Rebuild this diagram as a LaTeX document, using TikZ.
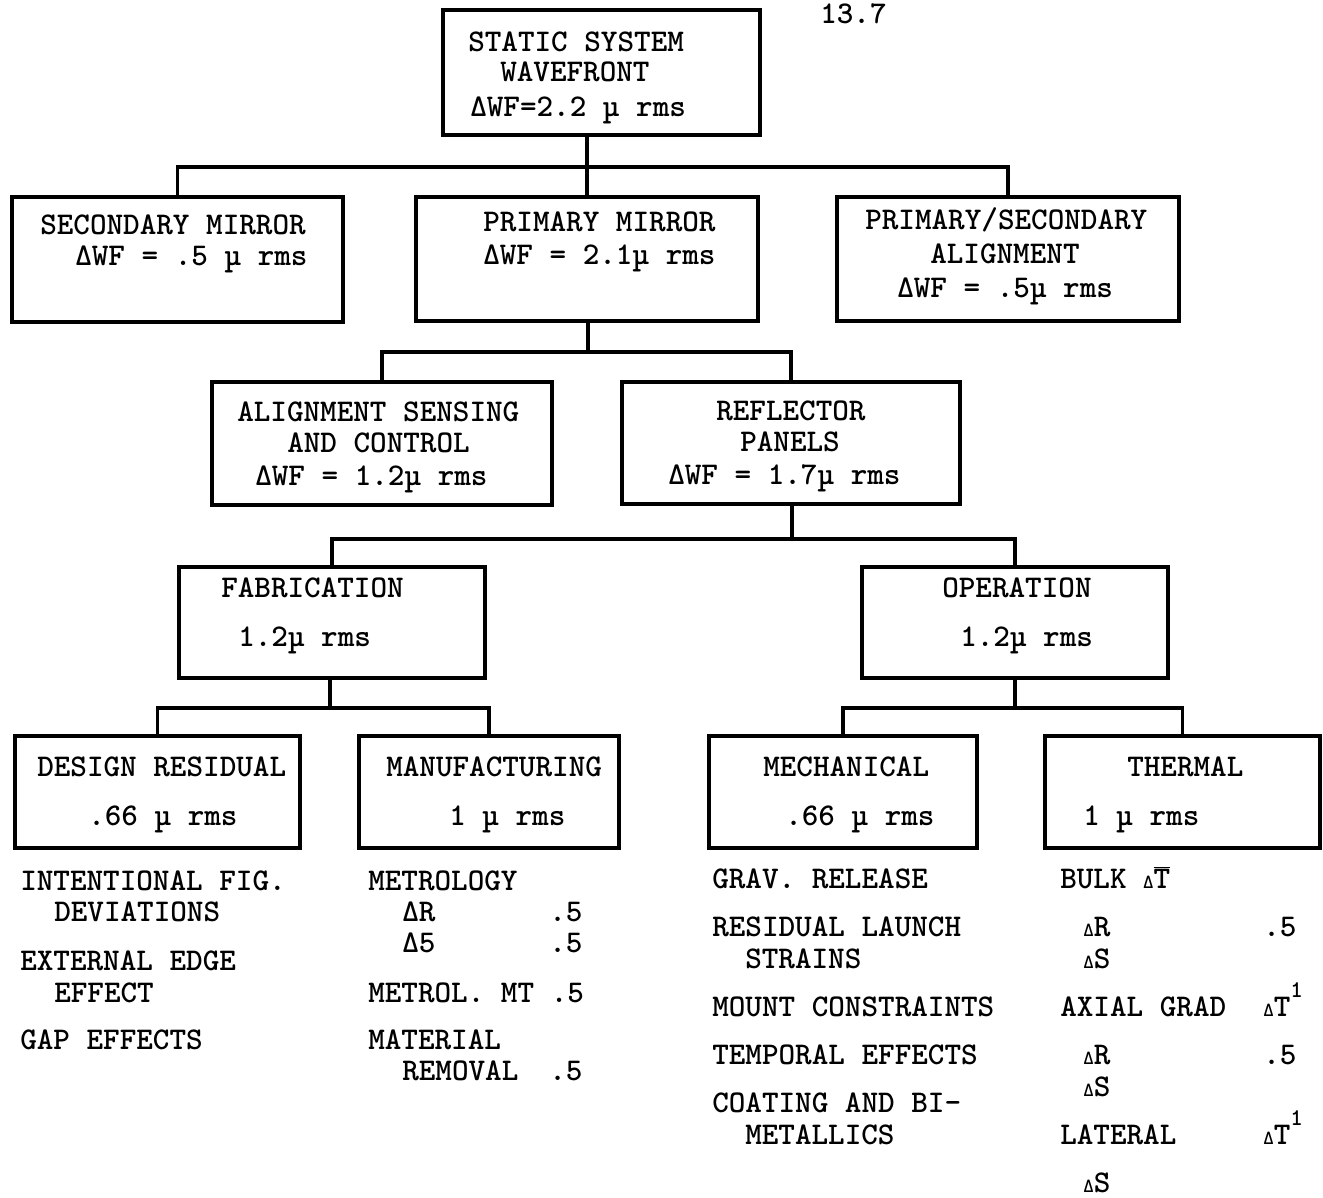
\documentclass[tikz,border=0pt]{standalone}
\usepackage{fontspec}
\begin{document}
\begin{tikzpicture}[x=0.75pt,y=-0.75pt,
  box/.style 2 args={draw, line width=3.1pt, minimum width=#1*0.75pt, minimum height=#2*0.75pt, inner sep=0pt},
  link/.style={line width=2.7pt},
  txt/.style={anchor=base west, inner sep=0pt, font=\ttfamily\bfseries\fontsize{23.7}{27}\selectfont},
]
\newcommand{\sd}{{\fontsize{15}{15}\selectfont Δ}}
\useasboundingbox (0,0) rectangle (1323,1198);
\fill[white] (0,0) rectangle (1323,1198);

% boxes
\node[box={317}{125}] (top) at (601.5,72.5) {};
\node[box={331}{125}] (sec) at (177.5,259.5) {};
\node[box={342}{124}] (pri) at (587,259) {};
\node[box={342}{124}] (ps)  at (1008,259) {};
\node[box={340}{123}] (ali) at (382,443.5) {};
\node[box={338}{122}] (ref) at (791,443) {};
\node[box={306}{111}] (fab) at (332,622.5) {};
\node[box={306}{111}] (ope) at (1015,622.5) {};
\node[box={285}{112}] (des) at (157.5,792) {};
\node[box={260}{112}] (man) at (489,792) {};
\node[box={268}{112}] (mec) at (843,792) {};
\node[box={275}{112}] (the) at (1182.5,792) {};

% junctions
\coordinate (j1) at (587,167);
\coordinate (j2) at (588,352);
\coordinate (j3) at (792,539);
\coordinate (j4) at (330,708);
\coordinate (j5) at (1015,708);

% connectors
\draw[link] (top.south -| j1) -- (j1);
\draw[link] (sec.north) |- (j1) -| (ps.north);
\draw[link] (j1) -- (pri.north);
\draw[link] (pri.south -| j2) -- (j2);
\draw[link] (ali.north) |- (j2) -| (ref.north);
\draw[link] (ref.south -| j3) -- (j3);
\draw[link] (fab.north) |- (j3) -| (ope.north);
\draw[link] (fab.south -| j4) -- (j4);
\draw[link] (des.north) |- (j4) -| (man.north);
\draw[link] (ope.south) -- (j5);
\draw[link] (mec.north) |- (j5) -| (the.north);

% page number
\node[txt] (pg) at (820,24) {13.7};

% box texts
\node[txt] (t1) at (468,52) {STATIC SYSTEM};
\node[txt] (t2) at (500,82) {WAVEFRONT};
\node[txt] (t3) at (470,117) {ΔWF=2.2 µ rms};

\node[txt] (s1) at (40,235) {SECONDARY MIRROR};
\node[txt] (s2) at (75,266) {ΔWF = .5 µ rms};

\node[txt] (p1) at (483,232) {PRIMARY MIRROR};
\node[txt] (p2) at (483,264) {ΔWF = 2.1µ rms};

\node[txt] (q1) at (865,230) {PRIMARY/SECONDARY};
\node[txt] (q2) at (930,263) {ALIGNMENT};
\node[txt] (q3) at (897,297) {ΔWF = .5µ rms};

\node[txt] (a1) at (237,421) {ALIGNMENT SENSING};
\node[txt] (a2) at (287,452) {AND CONTROL};
\node[txt] (a3) at (255,485) {ΔWF = 1.2µ rms};

\node[txt] (r1) at (716,420) {REFLECTOR};
\node[txt] (r2) at (740,451) {PANELS};
\node[txt] (r3) at (668,484) {ΔWF = 1.7µ rms};

\node[txt] (f1) at (221,597) {FABRICATION};
\node[txt] (f2) at (238,646) {1.2µ rms};

\node[txt] (o1) at (942,597) {OPERATION};
\node[txt] (o2) at (960,646) {1.2µ rms};

\node[txt] (d1) at (37,776) {DESIGN RESIDUAL};
\node[txt] (d2) at (88,825) {.66 µ rms};

\node[txt] (m1) at (386,776) {MANUFACTURING};
\node[txt] (m2) at (449,825) {1 µ rms};

\node[txt] (c1) at (763,776) {MECHANICAL};
\node[txt] (c2) at (785,825) {.66 µ rms};

\node[txt] (h1) at (1127,776) {THERMAL};
\node[txt] (h2) at (1083,825) {1 µ rms};

% column 1
\node[txt] (l1) at (20,890) {INTENTIONAL FIG.};
\node[txt] (l2) at (54,921) {DEVIATIONS};
\node[txt] (l3) at (20,970) {EXTERNAL EDGE};
\node[txt] (l4) at (54,1002) {EFFECT};
\node[txt] (l5) at (20,1049) {GAP EFFECTS};

% column 2
\node[txt] (n1) at (368,890) {METROLOGY};
\node[txt] (n2) at (402,921) {ΔR};
\node[txt] (n3) at (549,921) {.5};
\node[txt] (n4) at (402,952) {Δ5};
\node[txt] (n5) at (549,952) {.5};
\node[txt] (n6) at (368,1002) {METROL. MT .5};
\node[txt] (n7) at (368,1049) {MATERIAL};
\node[txt] (n8) at (402,1080) {REMOVAL};
\node[txt] (n9) at (549,1080) {.5};

% column 3
\node[txt] (k1) at (712,888) {GRAV. RELEASE};
\node[txt] (k2) at (712,936) {RESIDUAL LAUNCH};
\node[txt] (k3) at (745,968) {STRAINS};
\node[txt] (k4) at (712,1016) {MOUNT CONSTRAINTS};
\node[txt] (k5) at (712,1064) {TEMPORAL EFFECTS};
\node[txt] (k6) at (712,1112) {COATING AND BI-};
\node[txt] (k7) at (745,1144) {METALLICS};

% column 4
\node[txt] (g1) at (1060,888) {BULK \sd$\overline{\hbox{T}}$};
\node[txt] (g2) at (1083,936) {\sd R};
\node[txt] (g3) at (1263,936) {.5};
\node[txt] (g4) at (1083,968) {\sd S};
\node[txt] (g5) at (1060,1016) {AXIAL GRAD};
\node[txt] (g6) at (1263,1016) {\sd T\raisebox{0.6em}{\fontsize{18}{18}\selectfont 1}};
\node[txt] (g7) at (1083,1064) {\sd R};
\node[txt] (g8) at (1263,1064) {.5};
\node[txt] (g9) at (1083,1096) {\sd S};
\node[txt] (g10) at (1060,1144) {LATERAL};
\node[txt] (g11) at (1263,1144) {\sd T\raisebox{0.6em}{\fontsize{18}{18}\selectfont 1}};
\node[txt] (g12) at (1083,1192) {\sd S};
\end{tikzpicture}
\end{document}
